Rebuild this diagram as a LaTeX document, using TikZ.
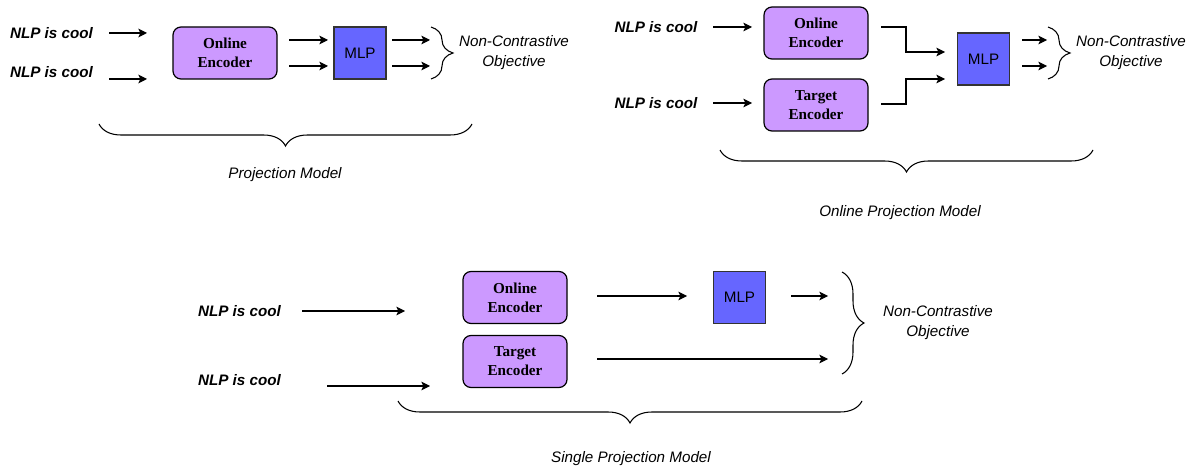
\documentclass[tikz,border=0pt]{standalone}
\usepackage{fontspec}
\setmainfont{Liberation Serif}
\setsansfont{Liberation Sans}
\usetikzlibrary{arrows.meta,decorations.pathreplacing}
\definecolor{encfill}{HTML}{CC99FF}
\definecolor{mlpfill}{HTML}{6666FF}
\tikzset{>={Stealth[length=6.5pt,width=6.5pt,inset=1.5pt]}}
\tikzset{
  txt/.style={font=\sffamily\bfseries\itshape\fontsize{11.4}{14}\selectfont, inner sep=0pt},
  lbl/.style={font=\sffamily\itshape\fontsize{11.4}{15}\selectfont, align=center, inner sep=0pt},
  enc/.style={draw=black, line width=0.9pt, fill=encfill, rounded corners=6pt,
    minimum width=78pt, minimum height=39pt, align=center, inner sep=0pt,
    font=\bfseries\fontsize{11.4}{14.25}\selectfont},
  mlp/.style={draw=black!80, line width=0.9pt, fill=mlpfill, minimum width=39pt,
    minimum height=39pt, inner sep=0pt, font=\sffamily\fontsize{11.4}{14}\selectfont},
  arr/.style={->, line width=0.8pt},
  brc/.style={decorate, decoration={brace, amplitude=16.5pt}, line width=0.8pt},
}

\begin{document}
\begin{tikzpicture}[x=0.75pt, y=-0.75pt]
  \useasboundingbox (0,0) rectangle (1191,466);

  % projection model
  \node[txt] (inA1) at (51.5,33) {NLP is cool};
  \node[txt] (inA2) at (51.5,72) {NLP is cool};
  \node[enc] (encA) at (225,53) {Online\\Encoder};
  \node[mlp] (mlpA) at (360,53) {MLP};
  \node[lbl] (objA) at (514,53) {Non-Contrastive\\Objective};
  \node[lbl] (modA) at (285,175) {Projection Model};
  \foreach \i/\xa/\xb/\y in {1/109/147/33, 2/109/147/79, 3/289/328/40,
      4/289/328/66, 5/392/430/40, 6/392/430/66} {
    \coordinate (pA\i) at (\xa,\y);
    \coordinate (qA\i) at (\xb,\y);
    \draw[arr] (pA\i) -- (qA\i);
  }
  \coordinate (bA1) at (431,27);
  \coordinate (bA2) at (431,79);
  \draw[brc] (bA1) -- (bA2);
  \coordinate (bA3) at (472,124);
  \coordinate (bA4) at (99,124);
  \draw[brc] (bA3) -- (bA4);

  % online projection model
  \node[txt] (inB1) at (656,27) {NLP is cool};
  \node[txt] (inB2) at (656,103) {NLP is cool};
  \node[enc] (encB1) at (816,33) {Online\\Encoder};
  \node[enc] (encB2) at (816,105) {Target\\Encoder};
  \node[mlp] (mlpB) at (983.5,59) {MLP};
  \node[lbl] (objB) at (1131,53) {Non-Contrastive\\Objective};
  \node[lbl] (modB) at (900,213) {Online Projection Model};
  \foreach \i/\xa/\xb/\y in {1/713/752/27, 2/713/752/103, 3/1022/1047/40,
      4/1022/1047/66} {
    \coordinate (pB\i) at (\xa,\y);
    \coordinate (qB\i) at (\xb,\y);
    \draw[arr] (pB\i) -- (qB\i);
  }
  \coordinate (eB1) at (881,27);
  \coordinate (fB1) at (945,52);
  \coordinate (eB2) at (881,104);
  \coordinate (fB2) at (945,79);
  \draw[arr] (eB1) -- ++(25,0) |- (fB1);
  \draw[arr] (eB2) -- ++(25,0) |- (fB2);
  \coordinate (bB1) at (1048,27);
  \coordinate (bB2) at (1048,79);
  \draw[brc] (bB1) -- (bB2);
  \coordinate (bB3) at (1093,150);
  \coordinate (bB4) at (720,150);
  \draw[brc] (bB3) -- (bB4);

  % single projection model
  \node[txt] (inC1) at (239.5,311) {NLP is cool};
  \node[txt] (inC2) at (239.5,380) {NLP is cool};
  \node[enc] (encC1) at (515,297.5) {Online\\Encoder};
  \node[enc] (encC2) at (515,361.5) {Target\\Encoder};
  \node[mlp] (mlpC) at (739.5,297.5) {MLP};
  \node[lbl] (objC) at (938,323) {Non-Contrastive\\Objective};
  \node[lbl] (modC) at (631,459) {Single Projection Model};
  \foreach \i/\xa/\xb/\y in {1/302/405/311, 2/327/430/386, 3/597/687/296,
      4/791/828/296, 5/597/828/359} {
    \coordinate (pC\i) at (\xa,\y);
    \coordinate (qC\i) at (\xb,\y);
    \draw[arr] (pC\i) -- (qC\i);
  }
  \coordinate (bC1) at (842,272);
  \coordinate (bC2) at (842,374);
  \draw[brc] (bC1) -- (bC2);
  \coordinate (bC3) at (862,401);
  \coordinate (bC4) at (398,401);
  \draw[brc] (bC3) -- (bC4);
\end{tikzpicture}
\end{document}
